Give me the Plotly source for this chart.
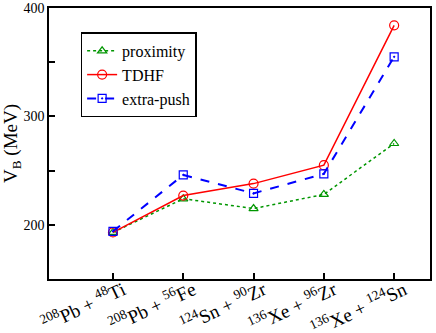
import plotly.graph_objects as go

reactions = [
    "<sup>208</sup>Pb + <sup>48</sup>Ti",
    "<sup>208</sup>Pb + <sup>56</sup>Fe",
    "<sup>124</sup>Sn + <sup>90</sup>Zr",
    "<sup>136</sup>Xe + <sup>96</sup>Zr",
    "<sup>136</sup>Xe + <sup>124</sup>Sn",
]
x_pos = [0, 1, 2, 3, 4]

proximity = [193, 224, 215, 228, 275]
tdhf = [193, 227, 238, 255, 384]
extra_push = [194, 246, 229, 247, 355]

SERIF = "'Liberation Serif', 'DejaVu Serif', serif"

fig = go.Figure()

fig.add_trace(go.Scatter(
    x=x_pos, y=proximity, name="proximity",
    mode="lines+markers",
    line=dict(color="rgb(0,150,0)", width=1.5, dash="dot"),
    marker=dict(symbol="triangle-up-open", size=8, color="rgb(0,150,0)", line=dict(width=1.2)),
))
fig.add_trace(go.Scatter(
    x=x_pos, y=tdhf, name="TDHF",
    mode="lines+markers",
    line=dict(color="#ff0000", width=1.5),
    marker=dict(symbol="circle-open", size=9, color="#ff0000", line=dict(width=1.2)),
))
fig.add_trace(go.Scatter(
    x=x_pos, y=extra_push, name="extra-push",
    mode="lines+markers",
    line=dict(color="#0000ff", width=2, dash="dash"),
    marker=dict(symbol="square-open-dot", size=8, color="#0000ff", line=dict(width=1.2)),
))

fig.update_layout(
    width=436, height=333,
    margin=dict(l=49, r=6, t=8, b=54, autoexpand=False),
    paper_bgcolor="white",
    plot_bgcolor="white",
    font=dict(family=SERIF, color="black"),
    showlegend=True,
    legend=dict(
        x=0.083, y=0.91, xanchor="left", yanchor="top",
        bgcolor="white", bordercolor="black", borderwidth=1.5,
        font=dict(family=SERIF, size=16), tracegroupgap=0,
        itemwidth=30,
    ),
)

fig.update_xaxes(
    range=[-0.91, 4.51],
    tickmode="array", tickvals=x_pos, ticktext=reactions,
    tickangle=-25, automargin=False,
    tickfont=dict(family=SERIF, size=19),
    ticklabelshift=10, ticklabelstandoff=-9,
    ticks="inside", ticklen=6, tickwidth=1.5, tickcolor="black",
    showline=True, linecolor="black", linewidth=1.5, mirror=True,
    showgrid=False, zeroline=False,
)
fig.update_yaxes(
    range=[150, 400], automargin=False,
    tickvals=[200, 250, 300, 350, 400],
    ticktext=["200", "", "300", "", "400"],
    tickfont=dict(family=SERIF, size=14),
    ticks="inside", ticklen=6, tickwidth=1.5, tickcolor="black",
    showline=True, linecolor="black", linewidth=1.5, mirror=True,
    showgrid=False, zeroline=False,
    title=dict(text="V<sub>B</sub> (MeV)", font=dict(family=SERIF, size=19), standoff=2),
)

# drop the default 8px page margin so the figure fills the window
fig.write_html(
    "out.html",
    config={"displayModeBar": False},
    post_script="document.body.style.margin='0';",
)
